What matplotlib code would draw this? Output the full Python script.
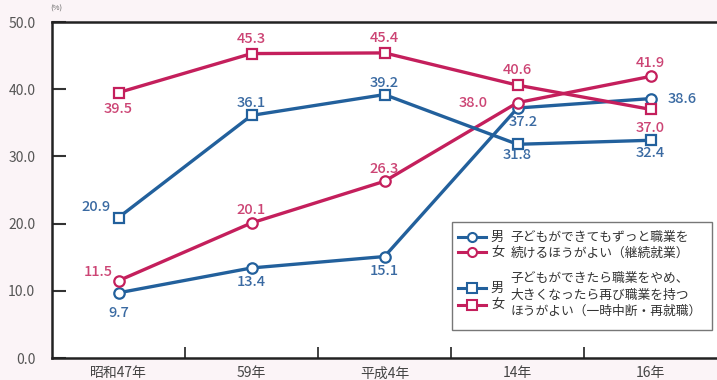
import matplotlib
matplotlib.use("Agg")
import matplotlib.pyplot as plt
from matplotlib.lines import Line2D
from matplotlib.patches import Rectangle

plt.rcParams['font.family'] = ['Noto Sans CJK JP', 'DejaVu Sans']

# data
years = ["昭和47年", "59年", "平成4年", "14年", "16年"]
male_continue = [9.7, 13.4, 15.1, 37.2, 38.6]
female_continue = [11.5, 20.1, 26.3, 38.0, 41.9]
male_reentry = [20.9, 36.1, 39.2, 31.8, 32.4]
female_reentry = [39.5, 45.3, 45.4, 40.6, 37.0]

BLUE = "#22609c"
PINK = "#c41f5c"
BLUE_TXT = "#3a6aa2"
PINK_TXT = "#cc4474"

# label offsets in pixels (dx, dy) for each point
off_male_continue = [(0, -20), (0, -14), (0, -14), (6, -14), (32, 0)]
off_female_continue = [(-20, 9), (0, 13), (0, 12), (-44, 0), (0, 13)]
off_male_reentry = [(-22, 11), (0, 12), (0, 12), (0, -11), (0, -13)]
off_female_reentry = [(0, -16), (0, 15), (0, 15), (0, 15), (0, -19)]

fig = plt.figure(figsize=(7.17, 3.8), dpi=100, facecolor="#fbf4f7")
ax = fig.add_axes([52 / 717, 22 / 380, 665 / 717, 336 / 380])
ax.set_facecolor("white")

x = list(range(len(years)))
series = [
    (male_continue, BLUE, BLUE_TXT, "o", off_male_continue),
    (female_continue, PINK, PINK_TXT, "o", off_female_continue),
    (male_reentry, BLUE, BLUE_TXT, "s", off_male_reentry),
    (female_reentry, PINK, PINK_TXT, "s", off_female_reentry),
]
for vals, col, tcol, mk, offs in series:
    ax.plot(x, vals, color=col, lw=2.4, marker=mk, ms=7.5 if mk == "o" else 7,
            mfc="white", mec=col, mew=1.6, zorder=3)
    for xi, v, (dx, dy) in zip(x, vals, offs):
        ax.annotate(f"{v:.1f}", (xi, v), xytext=(dx, dy), textcoords="offset pixels",
                    ha="center", va="center", fontsize=10.5, color=tcol,
                    fontweight="medium", zorder=4)

ax.set_xlim(-0.5, 4.5)
ax.set_ylim(0, 50)
ax.set_yticks([0, 10, 20, 30, 40, 50])
ax.set_yticklabels([f"{v:.1f}" for v in [0, 10, 20, 30, 40, 50]], color="#555555", fontsize=10)
ax.tick_params(axis="y", direction="in", length=10, width=1.5, color="#333333", pad=12)
ax.set_xticks(x)
ax.set_xticklabels(years, fontsize=10, color="#444444")
ax.set_xticks([0.5, 1.5, 2.5, 3.5], minor=True)
ax.tick_params(axis="x", which="major", length=0, pad=6)
ax.tick_params(axis="x", which="minor", direction="in", length=8, width=1.3, color="#333333")

for s in ["left", "bottom", "top"]:
    ax.spines[s].set_linewidth(1.8)
    ax.spines[s].set_color("#222222")
ax.spines["right"].set_visible(False)

fig.text(50 / 717, 1 - 9 / 380, "(%)", fontsize=5.5, color="#666666", ha="left", va="center")

# legend box
tr = ax.transAxes
ax.add_patch(Rectangle((0.6015, 0.083), 0.391, 0.322, transform=tr, fill=True,
                       facecolor="white", edgecolor="#777777", lw=1.0, zorder=5))
leg_rows = [(0.360, BLUE, "o", "男"), (0.315, PINK, "o", "女"),
            (0.208, BLUE, "s", "男"), (0.158, PINK, "s", "女")]
for yy, col, mk, lab in leg_rows:
    ax.add_line(Line2D([0.611, 0.652], [yy, yy], transform=tr, color=col, lw=2.2, zorder=6))
    ax.add_line(Line2D([0.6315], [yy], transform=tr, marker=mk, ms=6.5, mfc="white",
                       mec=col, mew=1.5, color=col, zorder=7))
    ax.text(0.660, yy, lab, transform=tr, fontsize=9.5, va="center", ha="left",
            color="#333333", zorder=7)

legend_text = [(0.360, "子どもができてもずっと職業を"),
               (0.3125, "続けるほうがよい（継続就業）"),
               (0.236, "子どもができたら職業をやめ、"),
               (0.1875, "大きくなったら再び職業を持つ"),
               (0.138, "ほうがよい（一時中断・再就職）")]
for yy, t in legend_text:
    ax.text(0.689, yy, t, transform=tr, fontsize=9.2, va="center", ha="left",
            color="#333333", zorder=7)

fig.savefig("out.png", dpi=100, facecolor=fig.get_facecolor())
